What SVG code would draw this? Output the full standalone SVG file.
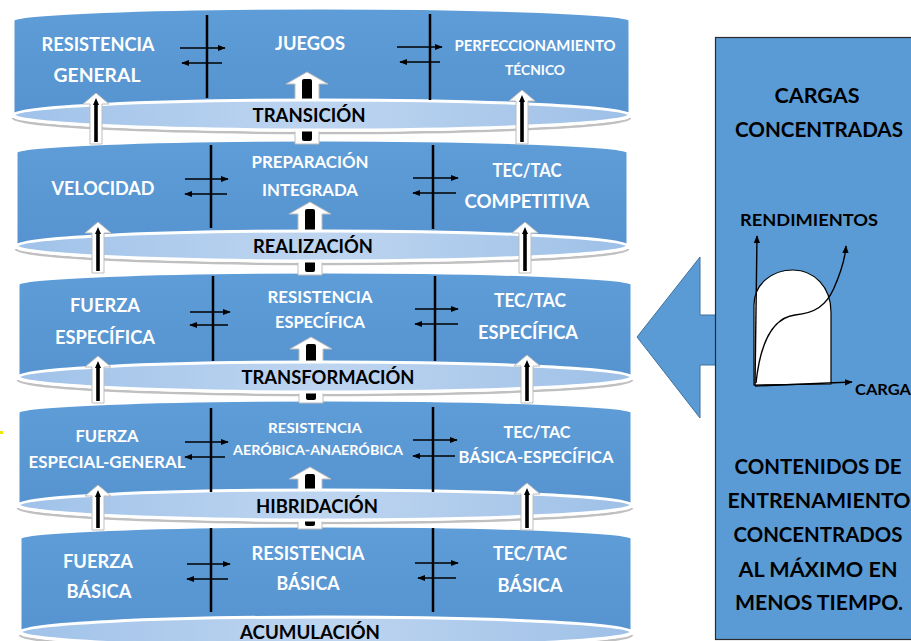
<svg xmlns="http://www.w3.org/2000/svg" width="911" height="641" viewBox="0 0 911 641">
<defs>
<linearGradient id="ell" x1="0" y1="0" x2="1" y2="0"><stop offset="0" stop-color="#a0c2e9"/><stop offset="0.5" stop-color="#bed5f0"/><stop offset="1" stop-color="#9ec0e7"/></linearGradient>
<linearGradient id="band" x1="0" y1="0" x2="0" y2="1"><stop offset="0" stop-color="#5e9dd8"/><stop offset="1" stop-color="#5592cf"/></linearGradient>
<marker id="ah" viewBox="0 0 10 10" refX="9" refY="5" markerWidth="8" markerHeight="8" markerUnits="userSpaceOnUse" orient="auto"><path d="M0,1 L10,5 L0,9 Z" fill="#000"/></marker>
</defs>
<style>
.band{fill:url(#band);stroke:#fff;stroke-width:3}
.shd{fill:none;stroke:#8c8c8c;stroke-width:2.5;opacity:.55}
.ell{fill:url(#ell);stroke:#fff;stroke-width:3}
.div{stroke:#000;stroke-width:2.5}
.dbl{stroke:#000;stroke-width:1.5;fill:none;marker-end:url(#ah)}
.ua{fill:#fff;stroke:#bdbdbd;stroke-width:1}
.core{fill:#000}
.w{font-family:Lato,"Open Sans",sans-serif;font-weight:700;fill:#fff;text-anchor:middle}
.k{font-family:Lato,"Open Sans",sans-serif;font-weight:700;fill:#000;text-anchor:middle}
.gl{stroke:#000;stroke-width:1.4;fill:none}
</style>
<rect width="911" height="641" fill="#fff"/>
<rect x="0" y="431" width="3" height="3" fill="#f2e600"/>

<!-- bands -->
<g id="tier1"><path class="shd" d="M13,118 A308.5,15 0 0 0 630,118"/><path class="band" d="M13,20 A308.5,12 0 0 1 630,20 L630,115 A308.5,15 0 0 1 13,115 Z"/></g>
<g id="tier2"><path class="shd" d="M16,249 A306,15 0 0 0 628,249"/><path class="band" d="M16,152 A306,12 0 0 1 628,152 L628,246 A306,15 0 0 1 16,246 Z"/></g>
<g id="tier3"><path class="shd" d="M18,380 A307,15 0 0 0 632,380"/><path class="band" d="M18,284 A307,12 0 0 1 632,284 L632,377 A307,15 0 0 1 18,377 Z"/></g>
<g id="tier4"><path class="shd" d="M18,508 A307,15 0 0 0 632,508"/><path class="band" d="M18,412 A307,12 0 0 1 632,412 L632,505 A307,15 0 0 1 18,505 Z"/></g>
<g id="tier5"><path class="shd" d="M20,635 A306,15 0 0 0 632,635"/><path class="band" d="M20,538 A306,12 0 0 1 632,538 L632,632 A306,15 0 0 1 20,632 Z"/></g>

<!-- center arrows (behind phase ellipses) -->
<g id="connectors-center">
<polygon class="ua" points="307,72 328,84 319,84 319,144 295,144 295,84 286,84"/><rect class="core" x="302" y="79" width="10" height="62" rx="2"/>
<polygon class="ua" points="310,202 331,214 322,214 322,275 298,275 298,214 289,214"/><rect class="core" x="305" y="209" width="10" height="63" rx="2"/>
<polygon class="ua" points="311,337 332,349 323,349 323,403 299,403 299,349 290,349"/><rect class="core" x="306" y="344" width="10" height="56" rx="2"/>
<polygon class="ua" points="310,467 331,479 322,479 322,529 298,529 298,479 289,479"/><rect class="core" x="305" y="474" width="10" height="52" rx="2"/>
</g>

<!-- phase ellipses -->
<g id="phase-transicion"><ellipse class="ell" cx="321.5" cy="115" rx="308.5" ry="15"/><text class="k" x="309" y="122" font-size="18" textLength="113" lengthAdjust="spacingAndGlyphs">TRANSICIÓN</text></g>
<g id="phase-realizacion"><ellipse class="ell" cx="322" cy="246" rx="306" ry="15"/><text class="k" x="313" y="253" font-size="18" textLength="120" lengthAdjust="spacingAndGlyphs">REALIZACIÓN</text></g>
<g id="phase-transformacion"><ellipse class="ell" cx="325" cy="377" rx="307" ry="15"/><text class="k" x="328" y="383.5" font-size="18" textLength="173" lengthAdjust="spacingAndGlyphs">TRANSFORMACIÓN</text></g>
<g id="phase-hibridacion"><ellipse class="ell" cx="325" cy="505" rx="307" ry="15"/><text class="k" x="317" y="513" font-size="18" textLength="122" lengthAdjust="spacingAndGlyphs">HIBRIDACIÓN</text></g>
<g id="phase-acumulacion"><ellipse class="ell" cx="326" cy="632" rx="306" ry="15"/><text class="k" x="310" y="638.5" font-size="18" textLength="140" lengthAdjust="spacingAndGlyphs">ACUMULACIÓN</text></g>

<!-- dividers and double arrows -->
<g id="connectors">
<line class="div" x1="207" y1="15" x2="207" y2="98"/><line class="div" x1="430" y1="14" x2="430" y2="100"/>
<line class="div" x1="211" y1="145" x2="211" y2="228"/><line class="div" x1="433" y1="145" x2="433" y2="229"/>
<line class="div" x1="213" y1="276" x2="213" y2="361"/><line class="div" x1="435" y1="276" x2="435" y2="361"/>
<line class="div" x1="211" y1="408" x2="211" y2="492"/><line class="div" x1="433" y1="407" x2="433" y2="492"/>
<line class="div" x1="211" y1="528" x2="211" y2="612"/><line class="div" x1="433" y1="528" x2="433" y2="612"/>

<line class="dbl" x1="180" y1="48" x2="225" y2="48"/><line class="dbl" x1="222" y1="63" x2="182" y2="63"/>
<line class="dbl" x1="397" y1="47" x2="442" y2="47"/><line class="dbl" x1="440" y1="62" x2="400" y2="62"/>
<line class="dbl" x1="185" y1="179" x2="228" y2="179"/><line class="dbl" x1="227" y1="194" x2="185" y2="194"/>
<line class="dbl" x1="413" y1="178" x2="458" y2="178"/><line class="dbl" x1="456" y1="193" x2="413" y2="193"/>
<line class="dbl" x1="190" y1="312" x2="230" y2="312"/><line class="dbl" x1="228" y1="325" x2="190" y2="325"/>
<line class="dbl" x1="415" y1="309" x2="458" y2="309"/><line class="dbl" x1="458" y1="324" x2="415" y2="324"/>
<line class="dbl" x1="185" y1="442" x2="228" y2="442"/><line class="dbl" x1="225" y1="457" x2="185" y2="457"/>
<line class="dbl" x1="413" y1="440" x2="457" y2="440"/><line class="dbl" x1="455" y1="456" x2="413" y2="456"/>
<line class="dbl" x1="187" y1="564" x2="230" y2="564"/><line class="dbl" x1="228" y1="579" x2="187" y2="579"/>
<line class="dbl" x1="415" y1="563" x2="458" y2="563"/><line class="dbl" x1="456" y1="578" x2="418" y2="578"/>

<!-- side up arrows -->
<polygon class="ua" points="96,93 109,104 102,104 102,144 90,144 90,104 83,104"/><path class="core" d="M94.2,142 V105 L93,105 L96,98 L99,105 L97.8,105 V142 Z"/>
<polygon class="ua" points="522,90 535,101 528,101 528,144 516,144 516,101 509,101"/><path class="core" d="M520.2,142 V102 L519,102 L522,95 L525,102 L523.8,102 V142 Z"/>
<polygon class="ua" points="98,222 111,233 104,233 104,273 92,273 92,233 85,233"/><path class="core" d="M96.2,271 V234 L95,234 L98,227 L101,234 L99.8,234 V271 Z"/>
<polygon class="ua" points="525,222 538,233 531,233 531,273 519,273 519,233 512,233"/><path class="core" d="M523.2,271 V234 L522,234 L525,227 L528,234 L526.8,234 V271 Z"/>
<polygon class="ua" points="98,356 111,367 104,367 104,403 92,403 92,367 85,367"/><path class="core" d="M96.2,401 V368 L95,368 L98,361 L101,368 L99.8,368 V401 Z"/>
<polygon class="ua" points="527,355 540,366 533,366 533,403 521,403 521,366 514,366"/><path class="core" d="M525.2,401 V367 L524,367 L527,360 L530,367 L528.8,367 V401 Z"/>
<polygon class="ua" points="98,485 111,496 104,496 104,530 92,530 92,496 85,496"/><path class="core" d="M96.2,528 V497 L95,497 L98,490 L101,497 L99.8,497 V528 Z"/>
<polygon class="ua" points="527,483 540,494 533,494 533,530 521,530 521,494 514,494"/><path class="core" d="M525.2,528 V495 L524,495 L527,488 L530,495 L528.8,495 V528 Z"/>
</g>

<!-- tier texts -->
<g id="n-resistencia-general"><text class="w" x="98" y="51" font-size="18" textLength="113" lengthAdjust="spacingAndGlyphs">RESISTENCIA</text><text class="w" x="97" y="82" font-size="18" textLength="87" lengthAdjust="spacingAndGlyphs">GENERAL</text></g>
<g id="n-juegos"><text class="w" x="310" y="50" font-size="18" textLength="70" lengthAdjust="spacingAndGlyphs">JUEGOS</text></g>
<g id="n-perfeccionamiento"><text class="w" x="535" y="50.5" font-size="15" textLength="161" lengthAdjust="spacingAndGlyphs">PERFECCIONAMIENTO</text><text class="w" x="535" y="74.5" font-size="13" textLength="60" lengthAdjust="spacingAndGlyphs">TÉCNICO</text></g>

<g id="n-velocidad"><text class="w" x="103" y="194.5" font-size="18" textLength="103" lengthAdjust="spacingAndGlyphs">VELOCIDAD</text></g>
<g id="n-preparacion"><text class="w" x="310" y="168" font-size="17" textLength="117" lengthAdjust="spacingAndGlyphs">PREPARACIÓN</text><text class="w" x="310" y="196" font-size="17" textLength="96" lengthAdjust="spacingAndGlyphs">INTEGRADA</text></g>
<g id="n-tec-competitiva"><text class="w" x="527" y="177" font-size="18" textLength="69" lengthAdjust="spacingAndGlyphs">TEC/TAC</text><text class="w" x="527" y="208" font-size="18" textLength="125" lengthAdjust="spacingAndGlyphs">COMPETITIVA</text></g>

<g id="n-fuerza-especifica"><text class="w" x="105" y="311.5" font-size="18" textLength="70" lengthAdjust="spacingAndGlyphs">FUERZA</text><text class="w" x="105" y="343.5" font-size="18" textLength="100" lengthAdjust="spacingAndGlyphs">ESPECÍFICA</text></g>
<g id="n-resistencia-especifica"><text class="w" x="320" y="303" font-size="17" textLength="105" lengthAdjust="spacingAndGlyphs">RESISTENCIA</text><text class="w" x="320" y="328" font-size="17" textLength="90" lengthAdjust="spacingAndGlyphs">ESPECÍFICA</text></g>
<g id="n-tec-especifica"><text class="w" x="530" y="306.5" font-size="18" textLength="72" lengthAdjust="spacingAndGlyphs">TEC/TAC</text><text class="w" x="528" y="338.5" font-size="18" textLength="100" lengthAdjust="spacingAndGlyphs">ESPECÍFICA</text></g>

<g id="n-fuerza-especial"><text class="w" x="107" y="442" font-size="17" textLength="63" lengthAdjust="spacingAndGlyphs">FUERZA</text><text class="w" x="107" y="468" font-size="17" textLength="157" lengthAdjust="spacingAndGlyphs">ESPECIAL-GENERAL</text></g>
<g id="n-resistencia-aerobica"><text class="w" x="315" y="433" font-size="13.5" textLength="94" lengthAdjust="spacingAndGlyphs">RESISTENCIA</text><text class="w" x="318" y="455" font-size="14" textLength="170" lengthAdjust="spacingAndGlyphs">AERÓBICA-ANAERÓBICA</text></g>
<g id="n-tec-basica-especifica"><text class="w" x="537" y="438" font-size="17" textLength="67" lengthAdjust="spacingAndGlyphs">TEC/TAC</text><text class="w" x="536" y="463" font-size="17" textLength="155" lengthAdjust="spacingAndGlyphs">BÁSICA-ESPECÍFICA</text></g>

<g id="n-fuerza-basica"><text class="w" x="98" y="568" font-size="19" textLength="70" lengthAdjust="spacingAndGlyphs">FUERZA</text><text class="w" x="99" y="598" font-size="19" textLength="65" lengthAdjust="spacingAndGlyphs">BÁSICA</text></g>
<g id="n-resistencia-basica"><text class="w" x="308" y="560" font-size="19" textLength="113" lengthAdjust="spacingAndGlyphs">RESISTENCIA</text><text class="w" x="308" y="590" font-size="19" textLength="63" lengthAdjust="spacingAndGlyphs">BÁSICA</text></g>
<g id="n-tec-basica"><text class="w" x="530" y="560" font-size="19" textLength="74" lengthAdjust="spacingAndGlyphs">TEC/TAC</text><text class="w" x="530" y="592" font-size="19" textLength="65" lengthAdjust="spacingAndGlyphs">BÁSICA</text></g>

<!-- right panel -->
<g id="big-arrow"><polygon points="637,337 700,257 700,315 717,315 717,365 700,365 700,418" fill="#5b9bd5" stroke="#41719c" stroke-width="1"/></g>
<g id="panel">
<rect x="715.5" y="37.5" width="200" height="602" fill="#5b9bd5" stroke="#2b2b2b" stroke-width="1.2"/>
<text class="k" x="817" y="103" font-size="21" textLength="85" lengthAdjust="spacingAndGlyphs">CARGAS</text>
<text class="k" x="819" y="137" font-size="21" textLength="168" lengthAdjust="spacingAndGlyphs">CONCENTRADAS</text>
<text class="k" x="809" y="226" font-size="17" textLength="138" lengthAdjust="spacingAndGlyphs">RENDIMIENTOS</text>
<path d="M754,385 V305 C754,284 772,270 793,270 C814,270 831,287 831,312 V384 Z" fill="#fff" stroke="#000" stroke-width="1.2"/>
<line class="gl" x1="755" y1="386" x2="757" y2="236" marker-end="url(#ah)"/>
<line class="gl" x1="755" y1="386" x2="852" y2="382" marker-end="url(#ah)"/>
<path class="gl" d="M756,383 C760,345 772,318 795,315 C815,313 826,306 834,288 C841,272 845,260 846,246" marker-end="url(#ah)"/>
<text class="k" x="855" y="395" font-size="16" text-anchor="start" style="text-anchor:start" textLength="56" lengthAdjust="spacingAndGlyphs">CARGA</text>
<text class="k" x="818" y="474" font-size="21" textLength="167" lengthAdjust="spacingAndGlyphs">CONTENIDOS DE</text>
<text class="k" x="819" y="508" font-size="21" textLength="183" lengthAdjust="spacingAndGlyphs">ENTRENAMIENTO</text>
<text class="k" x="818" y="542" font-size="21" textLength="169" lengthAdjust="spacingAndGlyphs">CONCENTRADOS</text>
<text class="k" x="818" y="577" font-size="21" textLength="159" lengthAdjust="spacingAndGlyphs">AL MÁXIMO EN</text>
<text class="k" x="819" y="610" font-size="21" textLength="168" lengthAdjust="spacingAndGlyphs">MENOS TIEMPO.</text>
</g>
</svg>
